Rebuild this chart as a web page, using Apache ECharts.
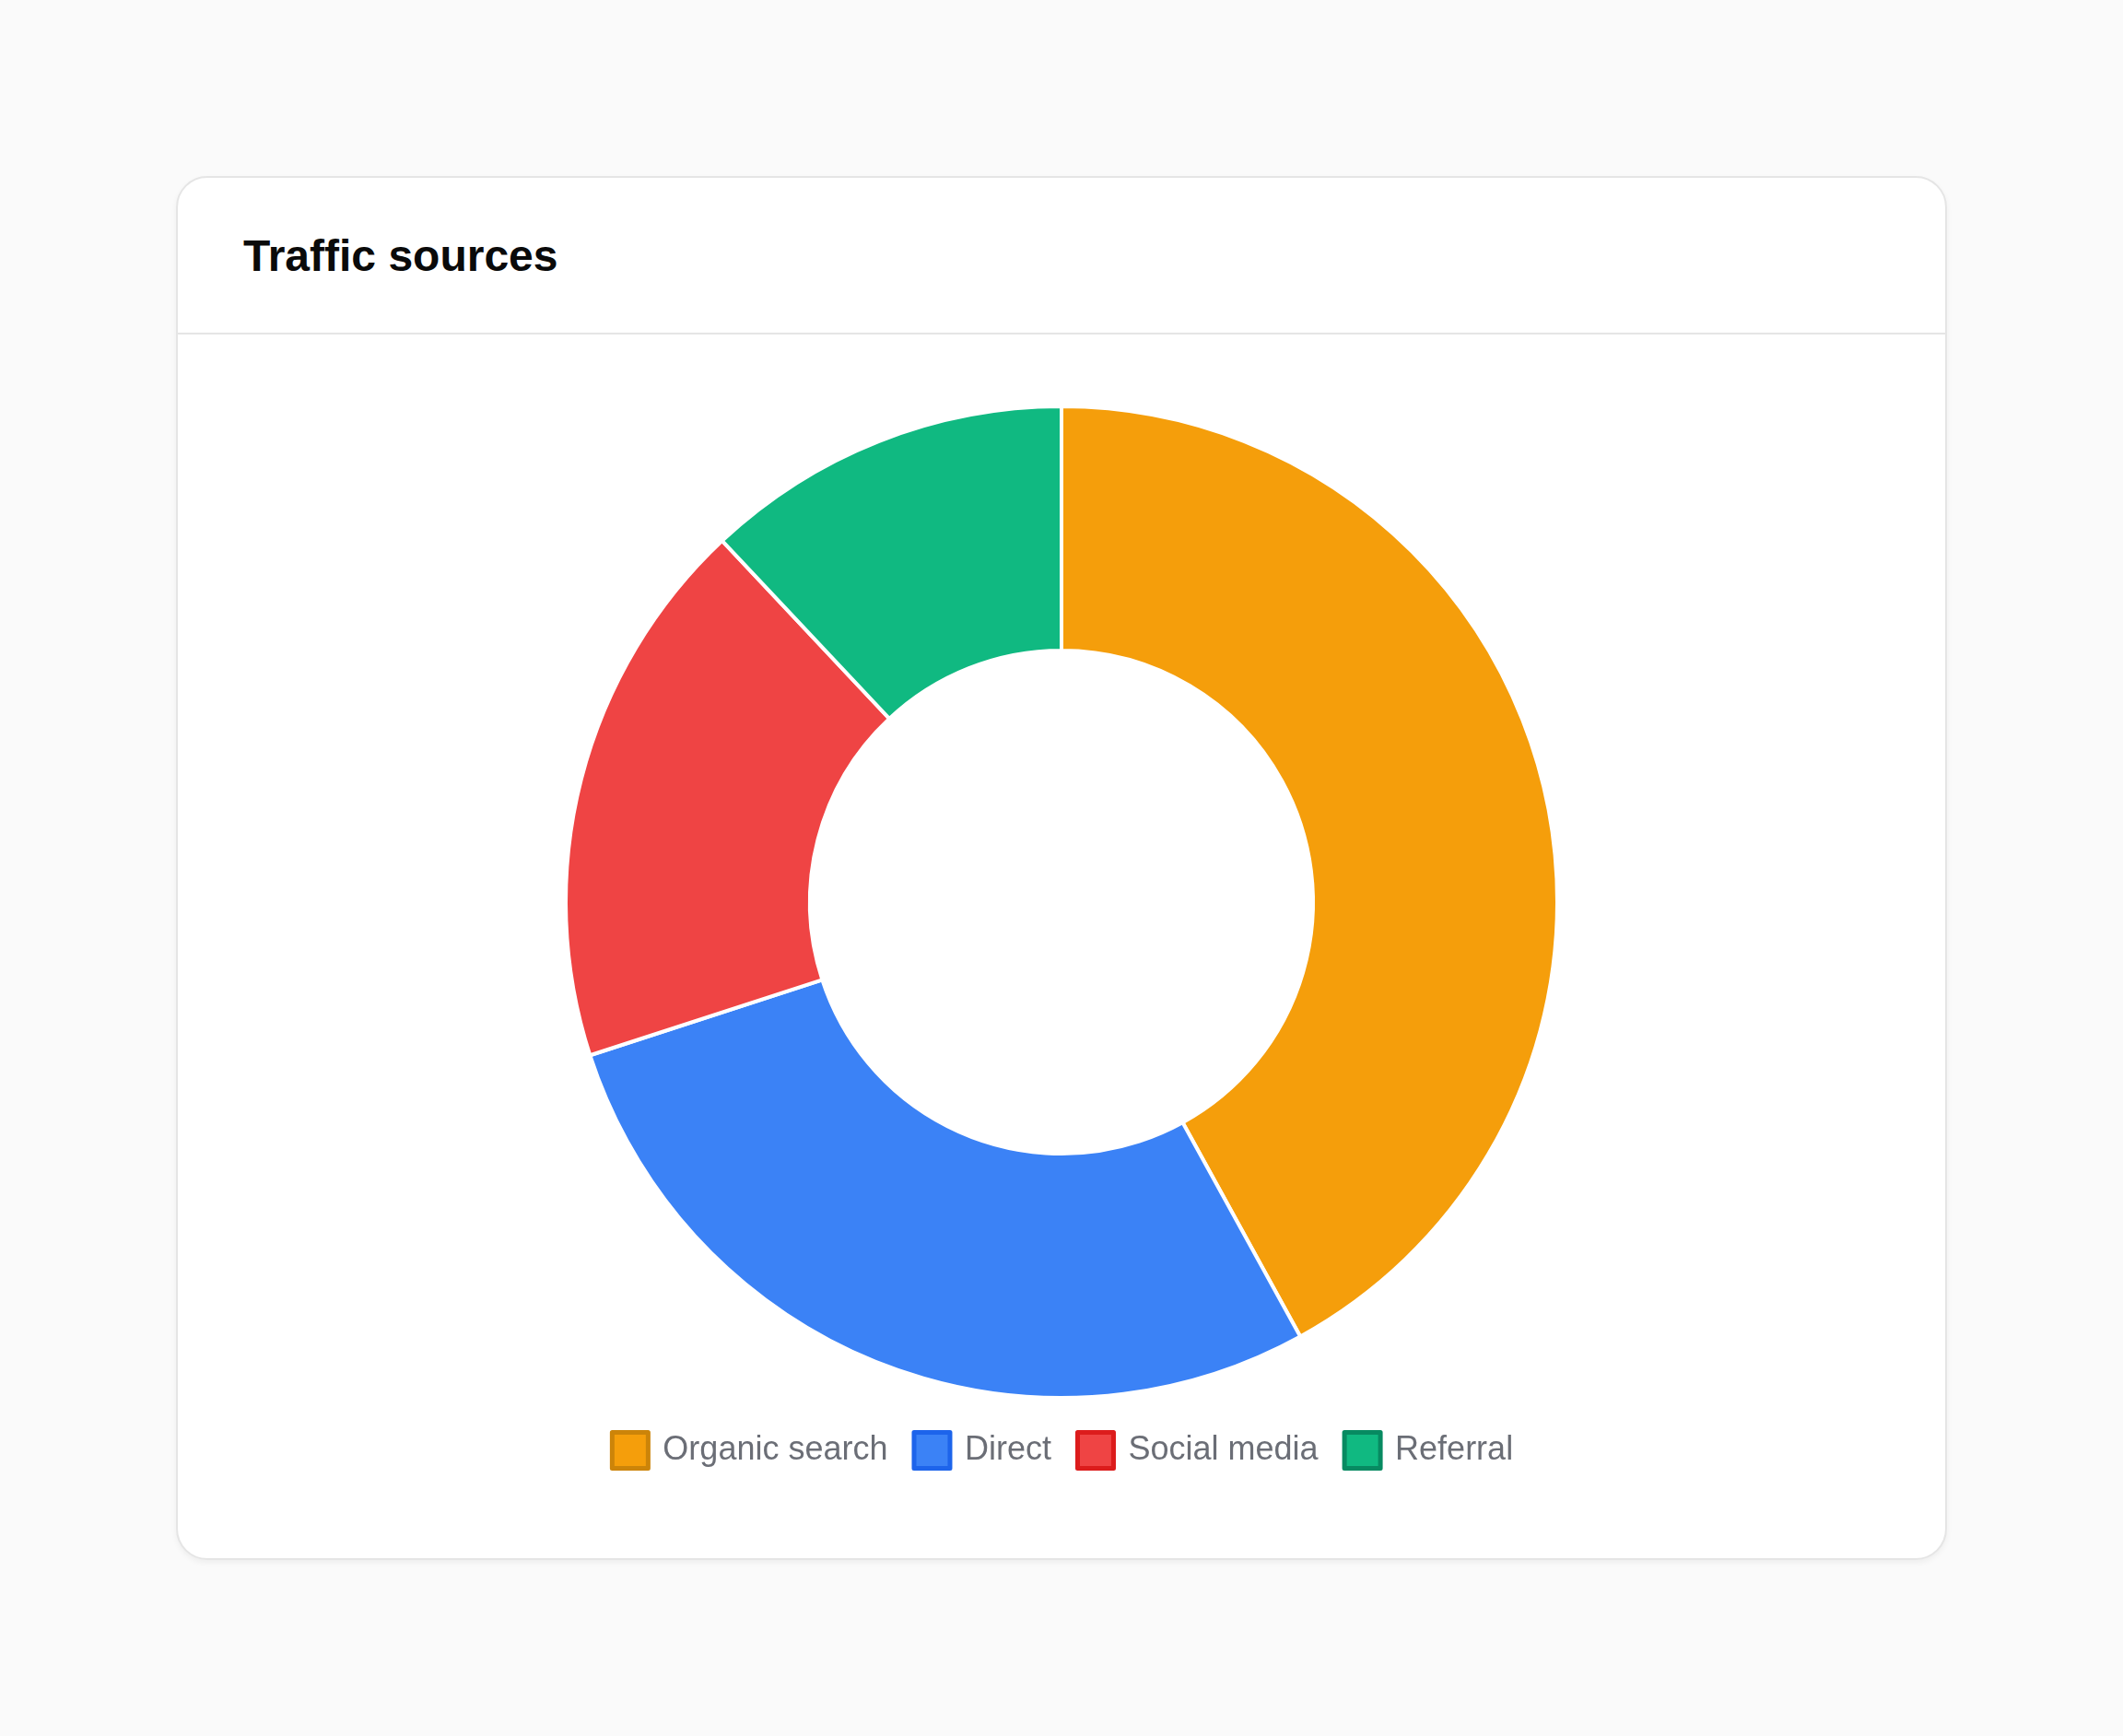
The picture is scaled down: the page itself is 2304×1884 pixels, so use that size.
<!DOCTYPE html>
<html>
<head>
<meta charset="utf-8">
<script src="https://cdn.jsdelivr.net/npm/echarts@6/dist/echarts.min.js"></script>
<style>
  html, body {
    margin: 0;
    padding: 0;
    background: #fafafa;
    width: 2304px;
    height: 1884px;
  }
  .card {
    position: absolute;
    left: 191px;
    top: 191px;
    width: 1922px;
    height: 1502px;
    box-sizing: border-box;
    background: #fff;
    border: 2px solid #e5e5e5;
    border-radius: 34px;
    box-shadow: 0 3px 6px rgba(0, 0, 0, 0.05);
    overflow: hidden;
  }
  .card-header {
    height: 170px;
    box-sizing: border-box;
    border-bottom: 2px solid #e5e5e5;
    display: flex;
    align-items: center;
    padding-left: 71px;
    font-family: "Liberation Sans", Arial, sans-serif;
    font-weight: bold;
    font-size: 48px;
    color: #0a0a0a;
  }
  #chart-traffic {
    width: 1918px;
    height: 1328px;
  }
</style>
</head>
<body>
<div class="card">
  <div class="card-header">Traffic sources</div>
  <div id="chart-traffic"></div>
</div>
<script>
const sourceNames = ["Organic search", "Direct", "Social media", "Referral"];
const sourceValues = [42, 28, 18, 12];
const sliceColors = ["#f59e0b", "#3b82f6", "#ef4444", "#10b981"];
const legendBorders = ["#cc8409", "#1d64eb", "#dc1c1c", "#078a61"];

const chart = echarts.init(document.getElementById("chart-traffic"));

chart.setOption({
  animation: false,
  legend: {
    data: sourceNames.map((name, i) => ({
      name: name,
      icon: "rect",
      itemStyle: {
        color: sliceColors[i],
        borderColor: legendBorders[i],
        borderWidth: 5,
      },
    })),
    left: "center",
    top: 1184,
    itemWidth: 39,
    itemHeight: 39,
    itemGap: 26,
    textStyle: {
      color: "#6b6e76",
      fontSize: 36,
      fontFamily: "Liberation Sans, Arial, sans-serif",
      padding: [0, 0, 0, 11],
    },
  },
  series: [
    {
      name: "Traffic sources",
      type: "pie",
      center: ["50%", 616],
      radius: [273, 538],
      startAngle: 90,
      clockwise: true,
      label: { show: false },
      labelLine: { show: false },
      emphasis: { disabled: true },
      itemStyle: {
        borderColor: "#fff",
        borderWidth: 4,
      },
      data: sourceNames.map((name, i) => ({
        name: name,
        value: sourceValues[i],
        itemStyle: { color: sliceColors[i] },
      })),
    },
  ],
});
</script>
</body>
</html>
